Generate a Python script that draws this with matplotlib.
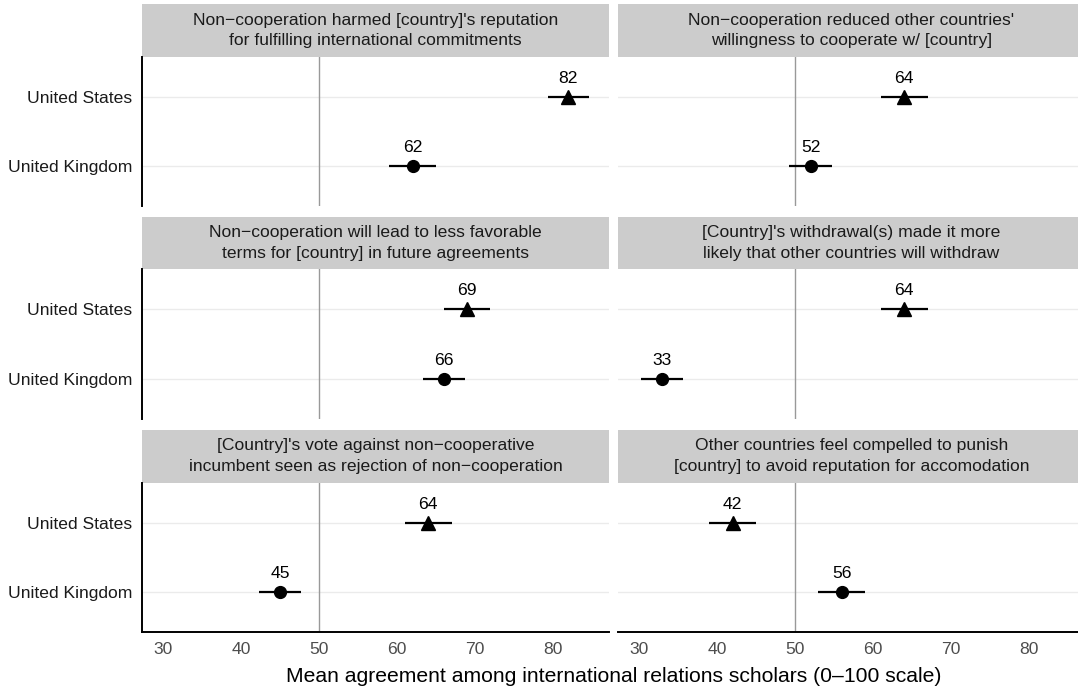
import matplotlib
matplotlib.use("Agg")
import matplotlib.pyplot as plt

plt.rcParams['font.family'] = ['Liberation Sans', 'DejaVu Sans']

# Facet titles (row-major order)
titles = [
    "Non\u2212cooperation harmed [country]'s reputation\nfor fulfilling international commitments",
    "Non\u2212cooperation reduced other countries'\nwillingness to cooperate w/ [country]",
    "Non\u2212cooperation will lead to less favorable\nterms for [country] in future agreements",
    "[Country]'s withdrawal(s) made it more\nlikely that other countries will withdraw",
    "[Country]'s vote against non\u2212cooperative\nincumbent seen as rejection of non\u2212cooperation",
    "Other countries feel compelled to punish\n[country] to avoid reputation for accomodation",
]
countries = ["United Kingdom", "United States"]

# Mean agreement per facet
us_mean = [82, 64, 69, 64, 64, 42]
uk_mean = [62, 52, 66, 33, 45, 56]
# 95% confidence interval bounds
us_lo = [79.4, 61.0, 66.0, 61.0, 61.0, 39.0]
us_hi = [84.6, 67.0, 72.0, 67.0, 67.0, 45.0]
uk_lo = [59.0, 49.2, 63.3, 30.3, 42.3, 53.0]
uk_hi = [65.0, 54.8, 68.7, 35.7, 47.7, 59.0]

xticks = [30, 40, 50, 60, 70, 80]

W, H = 1078, 690
fig = plt.figure(figsize=(W / 100, H / 100), dpi=100)

cols = [(142, 609), (618, 1085)]
rows = [(4, 57, 206), (217, 269, 419), (430, 483, 632)]


def px(x0, y0, x1, y1):
    return [x0 / W, 1 - y1 / H, (x1 - x0) / W, (y1 - y0) / H]


for i in range(6):
    r, c = divmod(i, 2)
    xl, xr = cols[c]
    st, sb, bb = rows[r]

    # strip
    sax = fig.add_axes(px(xl, st, xr, sb))
    sax.set_facecolor("#CCCCCC")
    for s in sax.spines.values():
        s.set_visible(False)
    sax.set_xticks([])
    sax.set_yticks([])
    sax.text((609 - 142) / 2 / (xr - xl), 0.5, titles[i], ha="center", va="center",
             fontsize=12.6, color="#1A1A1A", linespacing=1.5, transform=sax.transAxes)

    ax = fig.add_axes(px(xl, sb, xr, bb))
    ax.set_xlim(27.3, 87.2)
    ax.set_ylim(0.42, 2.58)
    for yv in (1, 2):
        ax.axhline(yv, color="#EBEBEB", lw=1.0, zorder=0)
    ax.axvline(50, color="#999999", lw=1.0, zorder=1)

    ax.hlines(2, us_lo[i], us_hi[i], color="black", lw=1.6, zorder=3)
    ax.hlines(1, uk_lo[i], uk_hi[i], color="black", lw=1.6, zorder=3)
    ax.plot(us_mean[i], 2, marker="^", ms=9.5, color="black", ls="none", zorder=4)
    ax.plot(uk_mean[i], 1, marker="o", ms=8.5, color="black", ls="none", zorder=4)
    ax.annotate(f"{us_mean[i]}", (us_mean[i], 2), xytext=(0, 8),
                textcoords="offset points", ha="center", va="bottom",
                fontsize=12.6, color="black")
    ax.annotate(f"{uk_mean[i]}", (uk_mean[i], 1), xytext=(0, 8),
                textcoords="offset points", ha="center", va="bottom",
                fontsize=12.6, color="black")

    for s in ("top", "right"):
        ax.spines[s].set_visible(False)
    ax.spines["left"].set_visible(c == 0)
    ax.spines["bottom"].set_visible(r == 2)
    ax.spines["left"].set_linewidth(1.4)
    ax.spines["bottom"].set_linewidth(1.4)

    ax.set_yticks([1, 2])
    if c == 0:
        ax.set_yticklabels(countries, fontsize=12.6, color="#1A1A1A")
    else:
        ax.set_yticklabels([])
    ax.set_xticks(xticks)
    if r == 2:
        ax.set_xticklabels([str(t) for t in xticks], fontsize=12.6, color="#4D4D4D")
    else:
        ax.set_xticklabels([])
    ax.tick_params(length=0, pad=7)

fig.text((142 + 1085) / 2 / W, 1 - 676 / H,
         "Mean agreement among international relations scholars (0\u2013100 scale)",
         ha="center", va="center", fontsize=15.2, color="black")

fig.savefig("out.png", dpi=100)
